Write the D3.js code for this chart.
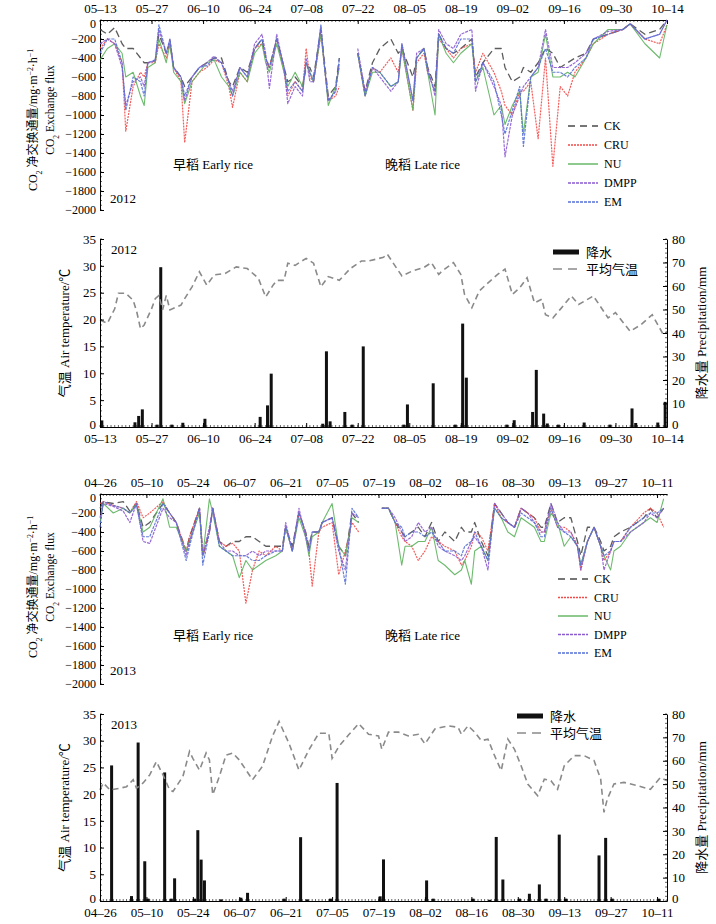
<!DOCTYPE html>
<meta charset="utf-8">
<script src="https://cdn.jsdelivr.net/npm/d3@7"></script>
<style>
  body { margin: 0; background: #fff; }
  svg text { font-family: "Liberation Serif", "Noto Sans CJK SC", serif; fill: #000; }
</style>
<svg width="716" height="924"></svg>
<script>
// ---- 2012 CO2 flux (gap marked with null) ----
var fluxDates2012 = ["05-13","05-15","05-17","05-19","05-20","05-22","05-24","05-25","05-26","05-28","05-29","05-31","06-01","06-02","06-04","06-05","06-07","06-09","06-11","06-13","06-15","06-17","06-18","06-20","06-22","06-24","06-26","06-27","06-28","06-30","07-02","07-03","07-05","07-07","07-08","07-09","07-10","07-12","07-13","07-14","07-16","07-17",
  "07-20",
  "07-22","07-24","07-26","07-28","07-31","08-02","08-03","08-06","08-07","08-09","08-10","08-12","08-13","08-15","08-17","08-19","08-22","08-23","08-25","08-28","08-30","08-31","09-02","09-04","09-05","09-07","09-09","09-11","09-13","09-15","09-17","09-19","09-22","09-24","09-28","10-02","10-04","10-08","10-12","10-14"];
var ck2012 = [-100,-150,-80,-250,-300,-300,-400,-450,-450,-430,-150,-350,-250,-500,-600,-700,-600,-500,-450,-400,-400,-650,-700,-500,-550,-300,-200,-400,-500,-200,-500,-650,-600,-700,-500,-500,-600,-100,-450,-800,-700,-400,
  null,
  -350,-750,-450,-300,-200,-350,-300,-600,-400,-300,-500,-700,-150,-300,-350,-300,-200,-600,-450,-300,-300,-500,-650,-600,-500,-550,-450,-300,-350,-500,-450,-400,-350,-200,-150,-100,-40,-150,-100,0];
var cru2012 = [-300,-200,-250,-450,-1170,-700,-550,-600,-450,-450,-250,-400,-250,-500,-650,-1290,-650,-550,-500,-420,-450,-700,-920,-550,-650,-300,-250,-400,-500,-200,-550,-800,-650,-750,-300,-600,-650,-150,-500,-850,-800,-700,
  null,
  -350,-800,-500,-550,-400,-550,-300,-950,-450,-350,-550,-750,-200,-300,-400,-300,-250,-550,-350,-550,-750,-900,-1000,-750,-750,-650,-1250,-400,-1540,-700,-800,-550,-400,-250,-150,-100,-40,-200,-250,-50];
var nu2012 = [-420,-300,-250,-350,-600,-550,-800,-900,-500,-450,-200,-450,-250,-550,-650,-880,-650,-550,-450,-420,-600,-700,-800,-550,-650,-350,-250,-450,-550,-250,-550,-700,-550,-700,-450,-550,-650,-150,-500,-900,-700,-500,
  null,
  -350,-800,-550,-550,-700,-650,-300,-950,-400,-300,-550,-1000,-150,-350,-450,-350,-250,-650,-500,-1000,-900,-1100,-900,-750,-1200,-600,-550,-150,-600,-600,-550,-600,-400,-250,-100,-100,-40,-250,-400,-50];
var dmpp2012 = [-250,-200,-250,-500,-900,-650,-600,-700,-450,-430,-100,-350,-200,-500,-600,-850,-600,-500,-450,-380,-450,-650,-750,-500,-600,-250,-150,-350,-720,-150,-500,-880,-700,-800,-400,-650,-650,-80,-500,-850,-750,-450,
  null,
  -300,-750,-500,-600,-750,-650,-250,-850,-350,-300,-500,-800,-100,-250,-300,-150,-100,-750,-450,-700,-900,-1440,-1000,-800,-700,-600,-500,-100,-500,-500,-500,-450,-350,-200,-120,-100,-40,-200,-150,0];
var em2012 = [-350,-200,-200,-450,-950,-600,-650,-800,-450,-420,-50,-350,-200,-500,-600,-800,-600,-500,-480,-400,-450,-650,-800,-500,-600,-300,-200,-400,-500,-200,-500,-750,-650,-750,-450,-550,-650,-50,-500,-850,-750,-400,
  null,
  -350,-800,-500,-550,-700,-650,-250,-850,-400,-300,-550,-750,-150,-300,-350,-200,-200,-650,-450,-650,-1000,-1200,-950,-700,-1330,-600,-500,-300,-550,-550,-600,-500,-400,-200,-150,-100,-40,-200,-150,0];

// ---- 2013 CO2 flux ----
var fluxDates2013 = ["04-26","04-27","04-30","05-03","05-05","05-07","05-09","05-11","05-15","05-17","05-19","05-22","05-23","05-26","05-27","05-29","05-30","06-01","06-03","06-05","06-07","06-09","06-11","06-13","06-15","06-18","06-20","06-21","06-23","06-25","06-27","06-28","06-29","07-01","07-02","07-05","07-07","07-09","07-11","07-13",
  "07-16",
  "07-20","07-22","07-24","07-26","07-27","07-29","07-31","08-02","08-04","08-06","08-08","08-11","08-13","08-14","08-16","08-17","08-19","08-21","08-23","08-25","08-27","08-29","08-31","09-02","09-04","09-06","09-07","09-09","09-11","09-13","09-15","09-17","09-18","09-20","09-22","09-24","09-25","09-27","09-28","09-30","10-03","10-07","10-09","10-11","10-13"];
var ck2013 = [-150,-80,-100,-80,-180,-100,-350,-300,-100,-200,-300,-600,-450,-150,-650,-400,-150,-500,-550,-500,-500,-450,-450,-500,-550,-550,-550,-350,-550,-200,-400,-550,-400,-400,-300,-250,-550,-650,-200,-300,
  null,
  -150,-150,-300,-400,-450,-400,-350,-450,-300,-500,-400,-500,-350,-400,-400,-300,-500,-650,-100,-200,-300,-350,-150,-200,-250,-350,-350,-100,-300,-250,-250,-500,-650,-350,-350,-500,-600,-550,-450,-400,-350,-250,-150,-250,-150];
var cru2013 = [-100,-80,-120,-150,-200,-80,-250,-200,-80,-200,-300,-600,-450,-150,-650,-400,-150,-500,-550,-520,-600,-1150,-800,-600,-650,-550,-600,-350,-600,-200,-400,-600,-970,-400,-350,-300,-850,-600,-300,-400,
  null,
  -150,-150,-300,-450,-500,-550,-700,-600,-450,-500,-550,-600,-750,-700,-550,-400,-450,-600,-100,-250,-300,-350,-150,-200,-250,-400,-400,-150,-350,-350,-400,-550,-800,-500,-350,-550,-700,-600,-500,-500,-350,-200,-150,-200,-350];
var nu2013 = [-300,-100,-200,-150,-200,-100,-400,-350,-50,-350,-350,-600,-500,-200,-650,-50,-200,-550,-600,-650,-880,-700,-800,-750,-700,-650,-600,-350,-600,-250,-450,-650,-450,-400,-300,-100,-550,-650,-250,-300,
  null,
  -150,-150,-300,-750,-550,-550,-500,-500,-350,-700,-750,-850,-800,-700,-950,-600,-550,-700,-150,-250,-400,-450,-250,-300,-350,-500,-500,-200,-300,-550,-450,-550,-750,-500,-350,-550,-650,-800,-600,-550,-400,-300,-250,-300,-50];
var dmpp2013 = [-250,-100,-130,-180,-300,-100,-500,-520,-150,-250,-300,-650,-500,-150,-650,-350,-150,-500,-600,-600,-650,-650,-600,-650,-600,-600,-600,-300,-600,-150,-450,-600,-400,-400,-300,-250,-600,-800,-200,-250,
  null,
  -150,-150,-250,-400,-500,-450,-300,-400,-350,-550,-600,-650,-700,-650,-500,-450,-550,-800,-100,-200,-300,-350,-150,-200,-300,-400,-400,-100,-300,-400,-400,-550,-800,-500,-350,-550,-800,-600,-500,-500,-400,-300,-200,-250,-150];
var em2013 = [-350,-80,-120,-150,-200,-120,-450,-450,-100,-200,-300,-700,-550,-150,-750,-400,-150,-550,-600,-650,-650,-650,-700,-700,-650,-600,-600,-350,-600,-200,-400,-600,-400,-400,-300,-250,-550,-950,-150,-250,
  null,
  -150,-150,-300,-350,-450,-400,-400,-450,-400,-500,-600,-600,-650,-550,-500,-400,-550,-700,-150,-250,-300,-350,-200,-250,-300,-450,-450,-150,-350,-400,-450,-550,-750,-500,-350,-550,-650,-600,-500,-500,-350,-250,-200,-200,-150];

// ---- air temperature (°C) and precipitation (mm) ----
var tempDates2012 = ["05-13","05-15","05-17","05-18","05-20","05-22","05-23","05-24","05-25","05-27","05-28","05-29","05-30","05-31","06-01","06-04","06-05","06-07","06-09","06-11","06-13","06-16","06-19","06-22","06-25","06-27","06-29","06-30","07-02","07-03","07-05","07-08","07-10","07-12","07-14","07-17","07-20","07-23","07-25","07-29","07-30","08-03","08-06","08-09","08-11","08-13","08-14","08-17","08-19","08-20","08-22","08-24","08-26","08-29","08-31","09-02","09-04","09-06","09-08","09-10","09-11","09-13","09-15","09-18","09-20","09-24","09-28","09-30","10-04","10-07","10-10","10-13","10-14"];
var temp2012 = [19.9,19.3,22,24.9,24.9,23.6,21.4,18.3,19,22,23.9,24.5,21.8,24.5,21.8,22.7,23.9,26.1,28.9,26.4,28.3,28.6,29.8,29.5,27.7,24.2,26.4,27.3,27.3,30.5,30.1,31.4,30.5,26.1,28,27.3,29.5,30.9,30.9,31.6,32.2,28.1,29.1,29.7,30.6,28.4,29.1,30.6,28.4,24.7,22.2,25.3,26.6,28.4,29.4,24.7,25.9,27.8,23.1,23.8,20.9,20.3,21.9,24.4,22.8,24.4,20.3,21.3,17.8,19.1,20.9,17.2,17.8];
var rainDates2012 = ["05-13","05-22","05-23","05-24","05-28","05-29","06-01","06-04","06-10","06-25","06-27","06-28","07-12","07-13","07-14","07-18","07-20","07-23","08-03","08-04","08-11","08-17","08-19","08-20","08-31","09-02","09-07","09-08","09-10","09-11","09-14","09-21","09-28","10-04","10-05","10-11","10-13"];
var rain2012 = [2.8,2,4.7,7.5,1,68,1,1.8,3.5,4.3,9.2,22.7,1.4,32.2,2.4,6.4,1,34.3,1,9.6,18.6,1,44,21,1,2.9,6.4,24.3,5.7,1.5,1,1.9,1,7.9,1.7,1.9,10.7];

var tempDates2013 = ["04-26","04-27","04-29","05-02","05-04","05-06","05-07","05-09","05-11","05-13","05-15","05-17","05-18","05-21","05-23","05-24","05-26","05-28","05-29","05-30","06-01","06-03","06-05","06-07","06-11","06-14","06-17","06-19","06-22","06-25","06-28","07-01","07-04","07-05","07-07","07-10","07-13","07-16","07-19","07-20","07-22","07-25","07-28","07-31","08-02","08-05","08-09","08-12","08-13","08-15","08-17","08-19","08-21","08-23","08-25","08-27","08-29","08-31","09-02","09-05","09-07","09-09","09-11","09-13","09-16","09-19","09-22","09-24","09-25","09-26","09-28","10-01","10-05","10-09","10-12","10-14"];
var temp2013 = [20.8,22.1,20.8,21.1,21.4,22.7,21.1,22.1,23.6,26.1,23.6,20.8,20.5,23.3,28,26.7,24.5,27.7,26.4,19.9,23.3,27.3,27.7,26.4,22.7,25.2,30.8,33.6,29.5,24.5,28.3,31.4,31.4,26.7,28.9,31.1,33.2,31.2,30.9,28.4,31.6,31.6,30.9,31.2,29.4,32.2,32.8,32.5,31.2,32.8,31.6,30,30.3,27.2,24.4,30.3,28.4,25.3,21.9,19.7,22.8,22.5,20.9,25.3,27.2,27.2,26.3,22.8,16.6,19.1,21.9,22.2,21.6,20.9,23.1,22.5];
var rainDates2013 = ["04-29","05-05","05-07","05-09","05-10","05-15","05-17","05-18","05-24","05-25","05-26","05-27","06-01","06-07","06-09","06-20","06-25","06-27","07-04","07-06","07-19","07-20","08-02","08-04","08-16","08-21","08-23","08-25","08-30","09-02","09-05","09-07","09-11","09-13","09-23","09-25","09-27","10-11"];
var rain2013 = [58,2.1,67.8,17,1,55,1,9.7,1,30.3,17.7,8.8,0.7,1.4,3.5,1,27.3,0.7,1,50.5,2,17.8,8.8,1,1,0.5,27.4,9.2,1,3.1,7.1,1,28.4,1,19.5,27,1,1];

// ---- axis ticks ----
var ticks2012 = ["05-13","05-27","06-10","06-24","07-08","07-22","08-05","08-19","09-02","09-16","09-30","10-14"];
var ticks2013 = ["04-26","05-10","05-24","06-07","06-21","07-05","07-19","08-02","08-16","08-30","09-13","09-27","10-11"];
var fluxTicks = [0,-200,-400,-600,-800,-1000,-1200,-1400,-1600,-1800,-2000];
var tempTicks = [0,5,10,15,20,25,30,35];
var rainTicks = [0,10,20,30,40,50,60,70,80];
var seriesNames = ["CK","CRU","NU","DMPP","EM"];

var svg = d3.select("svg");
var parseDate = d3.timeParse("%Y-%m-%d");
var fmtTick = function(d) { return d3.timeFormat("%m")(d) + "\u2013" + d3.timeFormat("%d")(d); };
var fmtFlux = function(d) { return d === 0 ? "0" : "\u2212" + Math.abs(d); };
var styles = {
  CK:   { color: "#4a4a4a", dash: "7,4", width: 1.3 },
  CRU:  { color: "#f04a48", dash: "2,1", width: 1.2 },
  NU:   { color: "#5db35d", dash: null, width: 1.1 },
  DMPP: { color: "#8c5bd0", dash: "3,1", width: 1.2 },
  EM:   { color: "#5670d4", dash: "3,1", width: 1.2 }
};

function dates(year, arr) {
  return arr.map(function(s) { return parseDate(year + "-" + s); });
}

function xScale(year, start) {
  return d3.scaleTime()
    .domain([parseDate(year + "-" + start), parseDate(year + "-10-14")])
    .range([100, 667]);
}

function dayTicks(g, x, y0, dir) {
  var days = d3.timeDay.range(x.domain()[0], d3.timeDay.offset(x.domain()[1], 1));
  g.append("g").selectAll("line").data(days).enter().append("line")
    .attr("x1", function(d) { return x(d); })
    .attr("x2", function(d) { return x(d); })
    .attr("y1", y0)
    .attr("y2", y0 + 2 * dir)
    .attr("stroke", "#000")
    .attr("stroke-width", 0.6);
}

function minorY(g, y, x0, values, dir) {
  g.append("g").selectAll("line").data(values).enter().append("line")
    .attr("x1", x0)
    .attr("x2", x0 + 2 * dir)
    .attr("y1", function(d) { return y(d); })
    .attr("y2", function(d) { return y(d); })
    .attr("stroke", "#000")
    .attr("stroke-width", 0.6);
}

function styleAxis(g, size) {
  g.selectAll("text").attr("font-size", size).attr("font-family", "Liberation Serif");
  g.selectAll("path, line").attr("stroke", "#000");
}

// rotated title built from pieces [text, shift]
function rotTitle(x, y, size, parts) {
  var t = svg.append("text")
    .attr("transform", "translate(" + x + "," + y + ") rotate(-90)")
    .attr("text-anchor", "middle")
    .attr("font-size", size);
  parts.forEach(function(p) {
    var s = t.append("tspan").text(p[0]);
    if (p[1]) s.attr("baseline-shift", p[1]).attr("font-size", size * 0.65);
  });
}

function drawFlux(p) {
  var x = xScale(p.year, p.start);
  var y = d3.scaleLinear().domain([0, -2000]).range([p.top, p.bottom]);
  var dts = dates(p.year, p.dates);
  var g = svg.append("g");

  dayTicks(g, x, p.top, 1);
  var ax = g.append("g")
    .attr("transform", "translate(0," + p.top + ")")
    .call(d3.axisTop(x).tickValues(dates(p.year, p.ticks)).tickFormat(fmtTick)
      .tickSizeInner(-4).tickSizeOuter(0).tickPadding(7.5));
  styleAxis(ax, 13);

  minorY(g, y, 100, d3.range(0, -2001, -50), 1);
  var ay = g.append("g")
    .attr("transform", "translate(100,0)")
    .call(d3.axisLeft(y).tickValues(fluxTicks).tickFormat(fmtFlux)
      .tickSizeInner(-4).tickSizeOuter(0).tickPadding(4));
  styleAxis(ay, 12);
  ay.selectAll(".tick text").filter(function(d) { return d === 0; }).attr("dy", "0.62em");

  var line = d3.line()
    .defined(function(d) { return d.v !== null; })
    .x(function(d) { return x(d.date); })
    .y(function(d) { return y(d.v); });

  p.series.forEach(function(vals, i) {
    var st = styles[seriesNames[i]];
    var rows = dts.map(function(d, j) { return { date: d, v: vals[j] }; });
    g.append("path")
      .datum(rows)
      .attr("fill", "none")
      .attr("stroke", st.color)
      .attr("stroke-width", st.width)
      .attr("stroke-dasharray", st.dash)
      .attr("stroke-linejoin", "round")
      .attr("opacity", 0.9)
      .attr("d", line);
  });

  // legend
  seriesNames.forEach(function(n, i) {
    var st = styles[n], ly = p.legendY + i * p.legendStep;
    g.append("line")
      .attr("x1", p.legendX).attr("x2", p.legendX + 30)
      .attr("y1", ly).attr("y2", ly)
      .attr("stroke", st.color).attr("stroke-width", 1.4)
      .attr("stroke-dasharray", n === "CK" ? "7,5" : st.dash);
    g.append("text").attr("x", p.legendX + 36).attr("y", ly + 4).attr("font-size", 12).text(n);
  });

  g.append("text").attr("x", 173).attr("y", p.riceY).attr("font-size", 13).text("早稻 Early rice");
  g.append("text").attr("x", 385).attr("y", p.riceY).attr("font-size", 13).text("晚稻 Late rice");
  g.append("text").attr("x", 110).attr("y", p.yearY).attr("font-size", 13).text(p.year);

  rotTitle(37, p.titleY + 4, 12, [["CO"], ["2", "sub"], [" 净交换通量/mg·m"], ["−2", "super"], ["·h"], ["−1", "super"]]);
  rotTitle(54, p.titleY - 6, 11.5, [["CO"], ["2", "sub"], [" Exchange flux"]]);
}

function drawClimate(p) {
  var x = xScale(p.year, p.start);
  var yT = d3.scaleLinear().domain([0, 35]).range([p.bottom, p.top]);
  var yP = d3.scaleLinear().domain([0, 80]).range([p.bottom, p.top]);
  var g = svg.append("g");
  var half = 567 / p.days / 2;

  // precipitation bars
  var rd = dates(p.year, p.rainDates);
  g.append("g").selectAll("rect").data(p.rain).enter().append("rect")
    .attr("x", function(d, i) { return x(rd[i]) + half - 1.5; })
    .attr("y", function(d) { return yP(d); })
    .attr("width", 3)
    .attr("height", function(d) { return p.bottom - yP(d); })
    .attr("fill", "#111");

  // mean air temperature
  var td = dates(p.year, p.tempDates);
  g.append("path")
    .datum(p.temp)
    .attr("fill", "none")
    .attr("stroke", "#8a8a8a")
    .attr("stroke-width", 1.6)
    .attr("stroke-dasharray", "6,4")
    .attr("d", d3.line()
      .x(function(d, i) { return x(td[i]); })
      .y(function(d) { return yT(d); }));

  dayTicks(g, x, p.bottom, -1);
  var ax = g.append("g")
    .attr("transform", "translate(0," + p.bottom + ")")
    .call(d3.axisBottom(x).tickValues(dates(p.year, p.ticks)).tickFormat(fmtTick)
      .tickSizeInner(-4).tickSizeOuter(0).tickPadding(7));
  styleAxis(ax, 13);

  minorY(g, yT, 100, d3.range(0, 36, 1), 1);
  var al = g.append("g")
    .attr("transform", "translate(100,0)")
    .call(d3.axisLeft(yT).tickValues(tempTicks).tickSizeInner(-4).tickSizeOuter(0).tickPadding(4));
  styleAxis(al, 13);
  al.selectAll(".tick text").filter(function(d) { return d === 0; }).attr("dy", "0.1em");

  minorY(g, yP, 667, d3.range(0, 81, 2), -1);
  var ar = g.append("g")
    .attr("transform", "translate(667,0)")
    .call(d3.axisRight(yP).tickValues(rainTicks).tickSizeInner(-4).tickSizeOuter(0).tickPadding(5));
  styleAxis(ar, 13);
  ar.selectAll(".tick text").filter(function(d) { return d === 0; }).attr("dy", "0.1em");

  // legend
  g.append("rect").attr("x", p.legendX).attr("y", p.legendY - 2.5).attr("width", 26).attr("height", 5).attr("fill", "#111");
  g.append("text").attr("x", p.legendX + 33).attr("y", p.legendY + 5).attr("font-size", 13).text("降水");
  g.append("line")
    .attr("x1", p.legendX).attr("x2", p.legendX + 26)
    .attr("y1", p.legendY + 17).attr("y2", p.legendY + 17)
    .attr("stroke", "#8a8a8a").attr("stroke-width", 1.6).attr("stroke-dasharray", "9,6");
  g.append("text").attr("x", p.legendX + 33).attr("y", p.legendY + 22).attr("font-size", 13).text("平均气温");

  g.append("text").attr("x", 111).attr("y", p.top + 15).attr("font-size", 13).text(p.year);

  var mid = (p.top + p.bottom) / 2;
  rotTitle(69, mid, 13, [["气温 Air temperature/℃"]]);
  rotTitle(706, mid, 13, [["降水量 Precipitation/mm"]]);
}

drawFlux({
  year: 2012, start: "05-13", top: 20, bottom: 210,
  dates: fluxDates2012, series: [ck2012, cru2012, nu2012, dmpp2012, em2012],
  ticks: ticks2012, legendX: 568, legendY: 126, legendStep: 19,
  riceY: 169, yearY: 203, titleY: 116
});

drawClimate({
  year: 2012, start: "05-13", days: 154, top: 239, bottom: 427,
  tempDates: tempDates2012, temp: temp2012, rainDates: rainDates2012, rain: rain2012,
  ticks: ticks2012, legendX: 553, legendY: 252
});

drawFlux({
  year: 2013, start: "04-26", top: 494, bottom: 684,
  dates: fluxDates2013, series: [ck2013, cru2013, nu2013, dmpp2013, em2013],
  ticks: ticks2013, legendX: 558, legendY: 579, legendStep: 18.5,
  riceY: 640, yearY: 675, titleY: 583
});

drawClimate({
  year: 2013, start: "04-26", days: 171, top: 714, bottom: 901,
  tempDates: tempDates2013, temp: temp2013, rainDates: rainDates2013, rain: rain2013,
  ticks: ticks2013, legendX: 517, legendY: 716
});
</script>
